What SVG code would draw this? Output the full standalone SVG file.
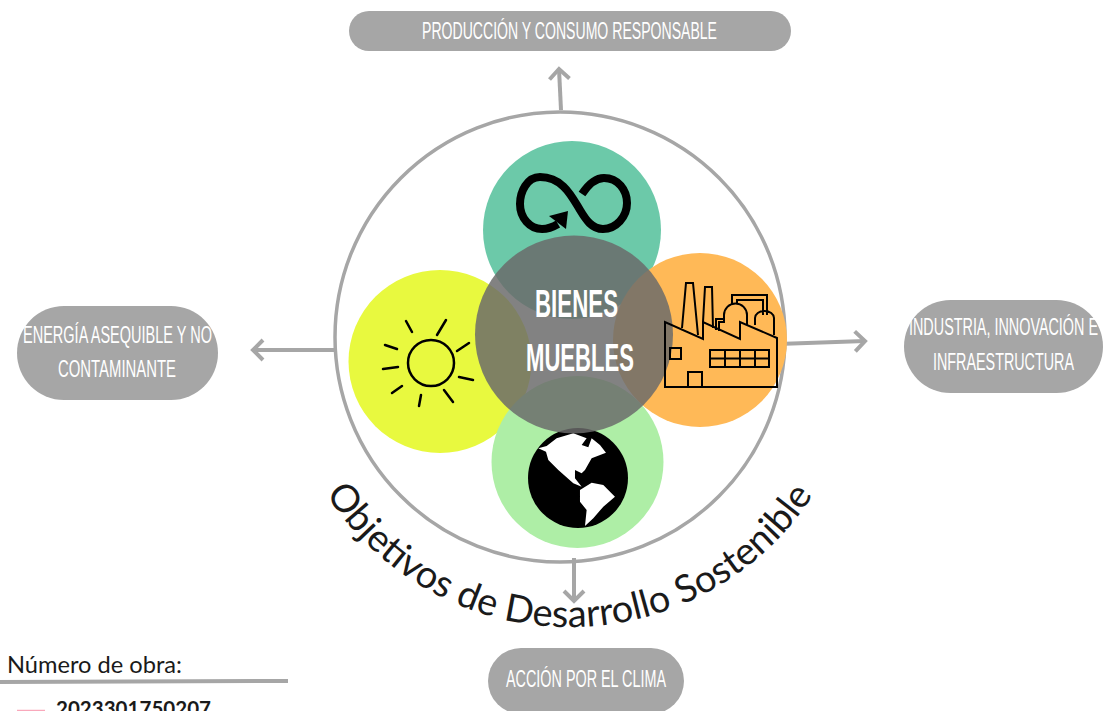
<svg xmlns="http://www.w3.org/2000/svg" width="1110" height="711" viewBox="0 0 1110 711">
<style>
.pill{fill:#a6a6a6}
.lbl{font-family:"Liberation Sans",Roboto,sans-serif;font-size:23px;fill:#fff;dominant-baseline:central}
.big{font-family:"Liberation Sans",Roboto,sans-serif;font-size:38px;font-weight:700;fill:#fff;dominant-baseline:central}
.conn{fill:none;stroke:#a6a6a6;stroke-width:4}
.ink{fill:none;stroke:#000;stroke-width:2;stroke-linejoin:miter}
.ray{fill:none;stroke:#000;stroke-width:2.5;stroke-linecap:round}
.geo{font-family:"Lato","Open Sans",sans-serif;fill:#1a1a1a}
</style>
<defs>
<marker id="head" markerUnits="userSpaceOnUse" markerWidth="24" markerHeight="24" refX="15" refY="12" orient="auto"><path d="M5 2 L15 12 L5 22" fill="none" stroke="#a6a6a6" stroke-width="4"/></marker>
<path id="arc" d="M 326 494 A 290 290 0 0 0 817 489"/>
</defs>
<rect width="1110" height="711" fill="#fff"/>
<circle id="ring" cx="560" cy="337" r="225" fill="none" stroke="#a6a6a6" stroke-width="3.5"/>
<g id="connectors">
<path class="conn" d="M561 110 L559 69" marker-end="url(#head)"/>
<path class="conn" d="M334 350 L253 350" marker-end="url(#head)"/>
<path class="conn" d="M778 344 L865 341" marker-end="url(#head)"/>
<path class="conn" d="M574 558 L574 601" marker-end="url(#head)"/>
</g>
<g id="node-produccion">
<rect class="pill" x="349" y="11" width="442" height="40" rx="20"/>
<text class="lbl" x="422" y="31" textLength="295" lengthAdjust="spacingAndGlyphs">PRODUCCIÓN Y CONSUMO RESPONSABLE</text>
</g>
<g id="node-energia">
<rect class="pill" x="17" y="306" width="201" height="94" rx="47"/>
<text class="lbl" x="23" y="335" textLength="189" lengthAdjust="spacingAndGlyphs">ENERGÍA ASEQUIBLE Y NO</text>
<text class="lbl" x="58" y="369" textLength="118" lengthAdjust="spacingAndGlyphs">CONTAMINANTE</text>
</g>
<g id="node-industria">
<rect class="pill" x="904" y="300" width="199" height="93" rx="46.5"/>
<text class="lbl" x="909" y="327" textLength="189" lengthAdjust="spacingAndGlyphs">INDUSTRIA, INNOVACIÓN E</text>
<text class="lbl" x="933" y="362" textLength="141" lengthAdjust="spacingAndGlyphs">INFRAESTRUCTURA</text>
</g>
<g id="node-accion">
<rect class="pill" x="488" y="648" width="196" height="66" rx="33"/>
<text class="lbl" x="506" y="679" textLength="160" lengthAdjust="spacingAndGlyphs">ACCIÓN POR EL CLIMA</text>
</g>
<g id="node-infinito">
<circle cx="572" cy="230" r="89" fill="#6cc9a9"/>
<path d="M582 194 C590 182 597 178 604 178 C618 178 627 190 627 203 C627 217 616 229 603 229 C592 229 586 220 580 210 C572 197 563 177 540 177 C527 177 520 192 520 204 C520 218 530 229 542 229 C548 229 553 227 558 224" fill="none" stroke="#000" stroke-width="8"/>
<path d="M549 216 L568 211 L566 229 Z" fill="#000"/>
</g>
<g id="node-sol">
<circle cx="440" cy="361.500" r="91.500" fill="#e8f93f"/>
<circle cx="431" cy="363" r="23" fill="none" stroke="#000" stroke-width="2.500"/>
<path class="ray" d="M406 321L412 332M446 320L437 335M469 343L457 351M385 345L397 349M383 369L398 367M459 377L473 380M402 386L392 393M421 395L419 406M444 390L453 402"/>
</g>
<g id="node-fabrica">
<circle cx="700" cy="340" r="87" fill="#ffb957"/>
</g>
<g id="node-tierra">
<circle cx="577.500" cy="462" r="86" fill="#aeeea6"/>
<circle cx="578" cy="478" r="50" fill="#000"/>
<g transform="translate(320 370) scale(.3333)" fill="#fff">
<path d="M655 235L680 228L710 205L760 190L800 205L785 225L805 232L815 205L840 225L858 248L815 265L795 300L785 310L765 300L765 325L785 350L760 340L715 300L685 270L678 245Z"/>
<path d="M780 360L815 338L850 345L885 380L850 410L820 445L795 468L800 420L780 395Z"/>
</g>
</g>
<g id="node-centro">
<circle cx="574" cy="334.500" r="99" fill="#6a6a6a" fill-opacity=".84"/>
<text class="big" x="535" y="304" textLength="83" lengthAdjust="spacingAndGlyphs">BIENES</text>
<text class="big" x="526" y="358" textLength="108" lengthAdjust="spacingAndGlyphs">MUEBLES</text>
</g>
<g id="factory-icon">
<path class="ink" d="M665 322V387H777V338L740 322V339L703 322V339Z"/>
<path class="ink" d="M682 328L686 283H693L698 335M703 322L705 287H712L713 328M724 323V315A11.500 11.500 0 0 1 747 315V325M755 325V318A9.500 7 0 0 1 774 318V335M732 305V295H767V315M737 303V300H763V315M716 330V319H724M719 331V322H724"/>
<path class="ink" d="M670 348H681V359H670ZM688 387V372H702V387M710 350H769V367H710ZM710 358.500H769M725 350V367M740 350V367M755 350V367"/>
</g>
<text class="geo" font-size="38" textLength="578"><textPath href="#arc">Objetivos de Desarrollo Sostenible</textPath></text>
<g id="obra">
<text class="geo" x="7" y="673" font-size="22.500" textLength="175" lengthAdjust="spacingAndGlyphs">Número de obra:</text>
<path d="M0 682 L288 681" stroke="#a6a6a6" stroke-width="4" fill="none"/>
<text class="geo" x="56" y="716" font-size="21" font-weight="700" textLength="155" lengthAdjust="spacingAndGlyphs">2023301750207</text>
<path d="M17 710.500H45" stroke="#f9a8bb" stroke-width="1.500" fill="none"/>
</g>
</svg>
